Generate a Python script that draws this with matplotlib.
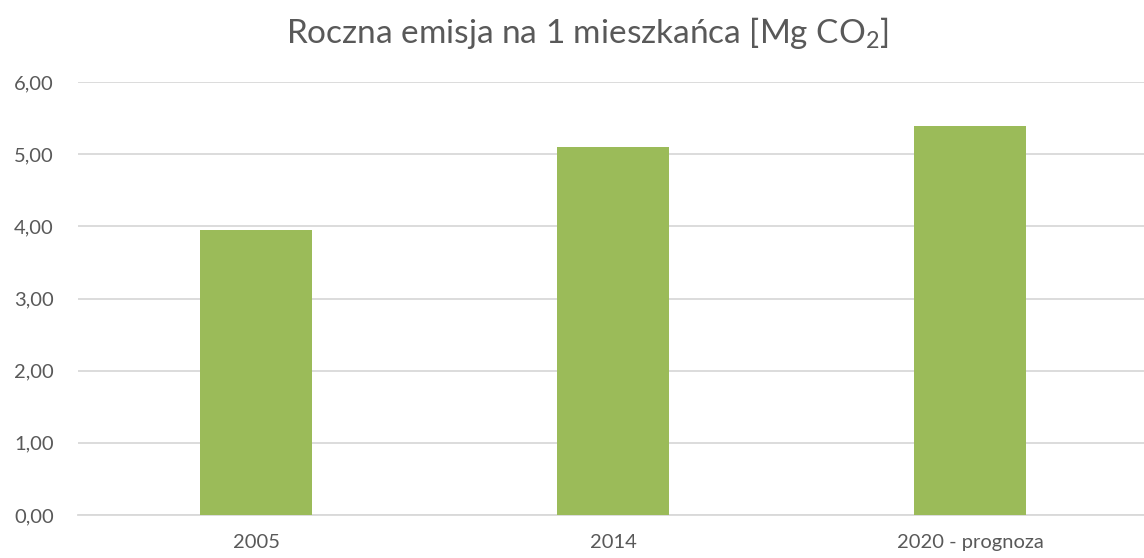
import matplotlib.pyplot as plt
import numpy as np

categories = ["2005", "2014", "2020 - prognoza"]
values = [3.95, 5.10, 5.39]
yticks = [0, 1, 2, 3, 4, 5, 6]

plt.rcParams['font.family'] = ['Lato', 'DejaVu Sans']
plt.rcParams['mathtext.fontset'] = 'custom'
plt.rcParams['mathtext.rm'] = 'Lato'

text_col = "#595959"

fig = plt.figure(figsize=(11.44, 5.58), dpi=100)
# plot area in pixels: x 77.5..1149, y 82..515
ax = fig.add_axes([77.5 / 1144, (558 - 515) / 558, 1071.5 / 1144, (515 - 82) / 558])

x = np.arange(len(categories))
ax.bar(x, values, width=0.314, color="#9BBB59", zorder=3)

ax.set_xlim(-0.5, len(categories) - 0.5)
ax.set_ylim(0, 6)
ax.set_yticks(yticks)
ax.set_yticklabels([f"{v:.2f}".replace(".", ",") for v in yticks])
ax.set_xticks(x)
ax.set_xticklabels(categories)
ax.yaxis.grid(True, color="#D9D9D9", linewidth=1.3, zorder=0)
ax.set_axisbelow(True)
for s in ["top", "right", "left"]:
    ax.spines[s].set_visible(False)
ax.spines["bottom"].set_color("#D9D9D9")
ax.spines["bottom"].set_linewidth(1.3)
ax.tick_params(axis="both", length=0, labelsize=14.5, colors=text_col)
ax.tick_params(axis="y", pad=17)
ax.tick_params(axis="x", pad=14)

fig.text(587 / 1144, 1 - 33 / 558, r"Roczna emisja na 1 mieszkańca [Mg CO$_\mathregular{2}$]",
         ha="center", va="center", fontsize=24, color=text_col)

fig.savefig("out.png", dpi=100)
